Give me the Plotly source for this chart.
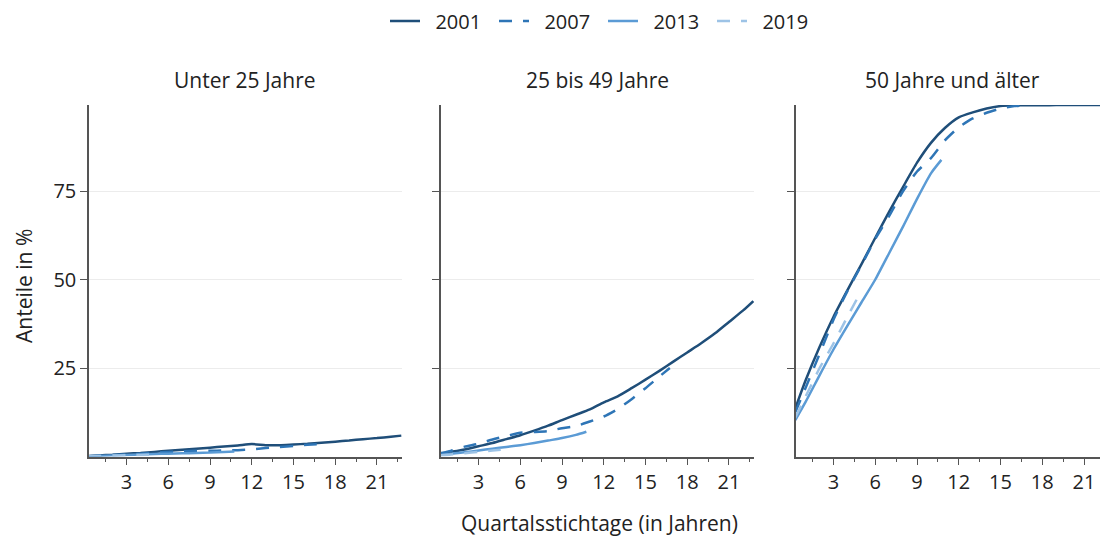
import plotly.graph_objects as go

# Quarterly reference dates (years since cohort start) for each entry cohort
t_2001 = [0.25] + list(range(1, 23)) + [22.75]
t_2007 = [0.25] + list(range(1, 17)) + [16.75]
t_2013 = [0.25] + list(range(1, 11)) + [10.75]
t_2019 = [0.25, 1, 2, 3, 4, 4.75]

cohorts = ["2001", "2007", "2013", "2019"]
panels = ["Unter 25 Jahre", "25 bis 49 Jahre", "50 Jahre und älter"]

# Shares in % — under 25
u25_2001 = [0.1, 0.3, 0.5, 0.8, 1.0, 1.3, 1.6, 1.9, 2.2, 2.5, 2.8, 3.1, 3.5,
            3.2, 3.2, 3.4, 3.6, 3.9, 4.2, 4.5, 4.9, 5.2, 5.6, 5.9]
u25_2007 = [0.1, 0.2, 0.4, 0.6, 0.8, 1.1, 1.3, 1.5, 1.6, 1.6, 1.7, 1.8, 2.0,
            2.4, 2.7, 3.0, 3.3, 3.5]
u25_2013 = [0.05, 0.15, 0.3, 0.45, 0.6, 0.7, 0.8, 0.9, 1.0, 1.1, 1.3, 1.4]
u25_2019 = [0.05, 0.15, 0.25, 0.35, 0.45, 0.5]

# Shares in % — 25 to 49
mid_2001 = [0.8, 1.3, 2.0, 2.9, 3.8, 4.9, 6.0, 7.3, 8.7, 10.3, 11.8, 13.3, 15.3,
            17.0, 19.3, 21.7, 24.2, 26.8, 29.4, 32.0, 34.8, 38.0, 41.2, 43.9]
mid_2007 = [0.9, 1.6, 2.8, 3.6, 4.8, 5.8, 6.7, 6.9, 7.2, 8.0, 8.6, 9.9, 11.3,
            13.4, 16.2, 19.3, 22.6, 25.0]
mid_2013 = [0.4, 0.8, 1.2, 1.7, 2.2, 2.7, 3.2, 3.8, 4.5, 5.2, 6.1, 7.0]
mid_2019 = [0.3, 0.6, 0.9, 1.3, 1.7, 2.0]

# Shares in % — 50 and older
old_2001 = [13.6, 21.6, 31.0, 39.5, 47.0, 54.3, 61.8, 69.2, 76.2, 83.0, 88.6,
            92.8, 95.8, 97.2, 98.3, 99.0, 99.2, 99.2, 99.2, 99.3, 99.3, 99.3,
            99.3, 99.3]
old_2007 = [12.5, 19.5, 29.0, 38.7, 46.8, 54.0, 61.5, 68.0, 75.0, 80.5, 84.3,
            89.3, 93.0, 95.5, 97.1, 98.3, 99.0, 99.2]
old_2013 = [10.3, 15.5, 23.0, 30.3, 37.0, 43.5, 50.0, 57.5, 65.0, 72.8, 80.0, 83.8]
old_2019 = [11.0, 17.0, 25.0, 32.0, 39.5, 45.0]

y_ticks = [25, 50, 75]
x_ticks = [3, 6, 9, 12, 15, 18, 21]

times = {"2001": t_2001, "2007": t_2007, "2013": t_2013, "2019": t_2019}
values = [
    {"2001": u25_2001, "2007": u25_2007, "2013": u25_2013, "2019": u25_2019},
    {"2001": mid_2001, "2007": mid_2007, "2013": mid_2013, "2019": mid_2019},
    {"2001": old_2001, "2007": old_2007, "2013": old_2013, "2019": old_2019},
]

colors = {"2001": "#1f4e79", "2007": "#2e75b6", "2013": "#5b9bd5", "2019": "#9dc3e6"}
dashes = {"2001": "solid", "2007": "13px,11px", "2013": "solid", "2019": "13px,11px"}

W, H = 1100, 536
FONT = "Open Sans"
TXT = "#222222"
AXC = "#555555"
NBSP = "\u00a0"


def px_x(p):
    return p / W


def px_y(p):
    return 1 - p / H


# pixel extents of each panel
x_dom = [(89, 402), (441, 754), (796, 1100)]
x_rng = [(0.3, 22.8), (0.3, 22.8), (0.3, 22.15)]
y_top, y_bot = 105, 456.5

fig = go.Figure()

for i, vals in enumerate(values):
    ax = "" if i == 0 else str(i + 1)
    for c in cohorts:
        fig.add_trace(go.Scatter(
            x=times[c], y=vals[c], mode="lines", name=NBSP * 2 + c,
            line=dict(color=colors[c], width=2.5, dash=dashes[c],
                      shape="spline", smoothing=0.6),
            xaxis="x" + ax, yaxis="y" + ax, showlegend=(i == 0),
            legendgroup=c,
        ))

layout = dict(
    width=W, height=H,
    margin=dict(l=0, r=0, t=0, b=0),
    paper_bgcolor="white", plot_bgcolor="white",
    font=dict(family=FONT, color=TXT, size=18),
    showlegend=True,
    legend=dict(orientation="h", x=px_x(603), xanchor="center",
                y=px_y(21), yanchor="middle",
                font=dict(size=20, family=FONT, color=TXT),
                itemwidth=30, entrywidth=64, entrywidthmode="pixels",
                tracegroupgap=0),
)

for i in range(3):
    ax = "" if i == 0 else str(i + 1)
    layout["xaxis" + ax] = dict(
        domain=[px_x(x_dom[i][0]), px_x(x_dom[i][1])],
        range=list(x_rng[i]), anchor="y" + ax,
        tickmode="array", tickvals=x_ticks,
        ticks="outside", ticklen=7, tickwidth=1.3, tickcolor=AXC,
        minor=dict(dtick=1.5, tick0=0, ticklen=4, tickwidth=1.3,
                   tickcolor=AXC, ticks="outside", showgrid=False),
        showline=True, linecolor=AXC, linewidth=1.5,
        showgrid=False, zeroline=False,
        tickfont=dict(size=20, family=FONT, color=TXT),
    )
    layout["yaxis" + ax] = dict(
        domain=[px_y(y_bot), px_y(y_top)],
        range=[0, 99.3], anchor="x" + ax,
        tickmode="array", tickvals=y_ticks,
        ticks="outside", ticklen=7, tickwidth=1.3, tickcolor=AXC,
        showline=True, linecolor=AXC, linewidth=1.5,
        showgrid=True, gridcolor="#ececec", gridwidth=1,
        zeroline=False, showticklabels=(i == 0),
        tickfont=dict(size=20, family=FONT, color=TXT),
    )

annotations = []
title_cx = [245, 598, 952]
for i, name in enumerate(panels):
    annotations.append(dict(
        text=name, x=px_x(title_cx[i]), y=px_y(80), xref="paper", yref="paper",
        xanchor="center", yanchor="middle", showarrow=False,
        font=dict(size=21, family=FONT, color=TXT),
    ))
annotations.append(dict(
    text="Quartalsstichtage (in Jahren)", x=px_x(599), y=px_y(523),
    xref="paper", yref="paper", xanchor="center", yanchor="middle",
    showarrow=False, font=dict(size=21, family=FONT, color=TXT),
))
annotations.append(dict(
    text="Anteile in %", x=px_x(24), y=px_y(286), xref="paper", yref="paper",
    xanchor="center", yanchor="middle", textangle=-90, showarrow=False,
    font=dict(size=21, family=FONT, color=TXT),
))
layout["annotations"] = annotations

fig.update_layout(layout)
fig.write_html("out.html")
